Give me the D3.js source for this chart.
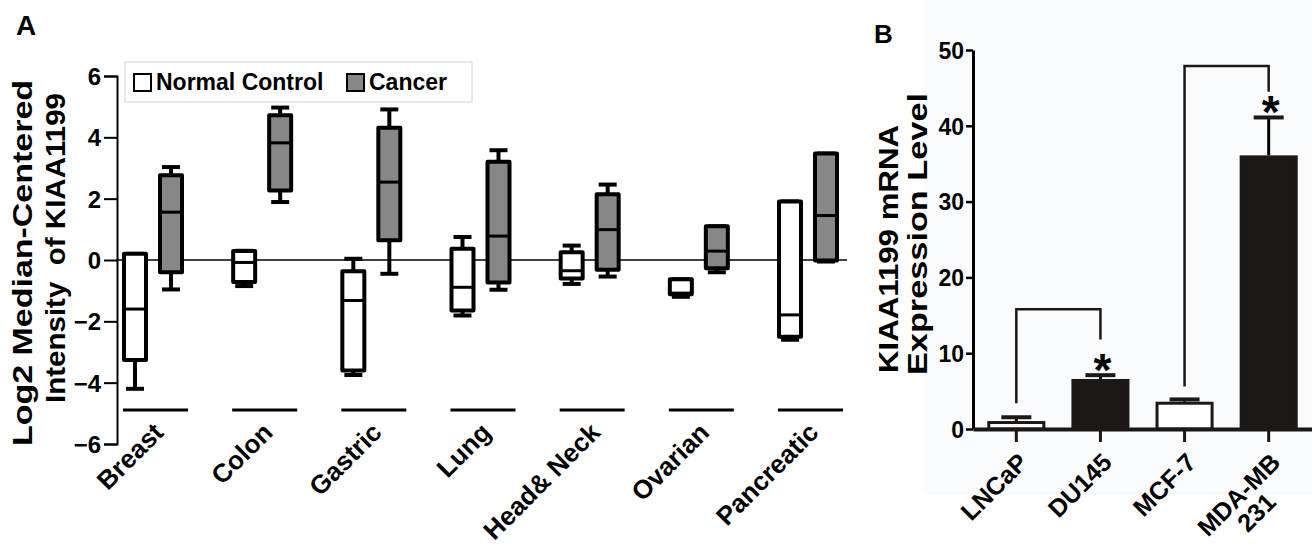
<!DOCTYPE html>
<html>
<head>
<meta charset="utf-8">
<script src="https://cdn.jsdelivr.net/npm/d3@7"></script>
<style>
  body { margin: 0; background: #fff; }
  svg text { font-family: "Liberation Sans", Arial, sans-serif; font-weight: bold; fill: #000; }
</style>
</head>
<body>
<script>
// ---- panel A data (box plots, log2 median-centered intensity) ----
const tumorTypes = ["Breast", "Colon", "Gastric", "Lung", "Head& Neck", "Ovarian", "Pancreatic"];
const groups = ["Normal Control", "Cancer"];

const normalMin = [-4.2, -0.85, -3.75, -1.81, -0.78, -1.2, -2.6];
const normalQ1  = [-3.26, -0.72, -3.6, -1.65, -0.6, -1.12, -2.5];
const normalMed = [-1.6, -0.08, -1.32, -0.89, -0.35, -1.08, -1.79];
const normalQ3  = [0.2, 0.29, -0.37, 0.37, 0.25, -0.63, 1.91];
const normalMax = [0.2, 0.3, 0.04, 0.75, 0.47, -0.63, 1.91];

const cancerMin = [-0.96, 1.89, -0.45, -0.97, -0.54, -0.4, -0.05];
const cancerQ1  = [-0.4, 2.27, 0.64, -0.73, -0.32, -0.27, -0.02];
const cancerMed = [1.56, 3.82, 2.54, 0.78, 0.99, 0.29, 1.45];
const cancerQ3  = [2.76, 4.72, 4.31, 3.2, 2.14, 1.1, 3.47];
const cancerMax = [3.03, 4.97, 4.91, 3.58, 2.46, 1.1, 3.47];

const yTicksA = [-6, -4, -2, 0, 2, 4, 6];

// ---- panel B data (qPCR bars) ----
const cellLines = ["LNCaP", "DU145", "MCF-7", "MDA-MB 231"];
const cellLabels = [["LNCaP"], ["DU145"], ["MCF-7"], ["MDA-MB", "231"]];
const expression = [1.05, 6.6, 3.6, 36.1];
const expressionErr = [0.5, 0.5, 0.3, 5.0];
const barIsDark = [false, true, false, true];
const yTicksB = [0, 10, 20, 30, 40, 50];
// significance brackets: from bar, to bar, top value, leg ends
const sigFrom = [0, 2];
const sigTo = [1, 3];
const sigTop = [15.8, 47.9];
const sigLeftEnd = [3.4, 5.6];
const sigRightEnd = [11.8, 44.5];

const W = 1312, H = 552;
const GRAY = "#878787";
const DARK = "#1c1816";

const svg = d3.select("body").append("svg")
  .attr("width", W)
  .attr("height", H);

// faint tint behind panel B
svg.append("rect")
  .attr("x", 923).attr("y", 0)
  .attr("width", W - 923).attr("height", 495)
  .attr("fill", "#f9fbfc");

// ================= PANEL A =================
const yA = d3.scaleLinear().domain([-6, 6]).range([444, 76]);
const xA = d3.scalePoint().domain(tumorTypes).range([153, 808]);
const gx = d3.scalePoint().domain(groups).range([-18, 18]);

svg.append("text")
  .attr("x", 16).attr("y", 35)
  .style("font-size", "28px")
  .text("A");

// y axis
const axisA = svg.append("g")
  .attr("transform", "translate(117,0)")
  .call(d3.axisLeft(yA).tickValues(yTicksA).tickSize(13).tickPadding(3).tickFormat(d3.format("d")));
axisA.select(".domain").attr("stroke-width", 2);
axisA.selectAll(".tick line").attr("stroke-width", 2);
axisA.selectAll(".tick text")
  .style("font-size", "24px")
  .style("font-family", "'Liberation Sans', Arial, sans-serif")
  .style("font-weight", "bold")
  .attr("dy", "0.36em");

// y title (two lines)
svg.append("text")
  .attr("transform", "translate(32,263) rotate(-90)")
  .attr("text-anchor", "middle")
  .attr("textLength", 366)
  .attr("lengthAdjust", "spacingAndGlyphs")
  .style("font-size", "27px")
  .text("Log2 Median-Centered");
svg.append("text")
  .attr("transform", "translate(65,248) rotate(-90)")
  .attr("text-anchor", "middle")
  .attr("textLength", 310)
  .attr("lengthAdjust", "spacingAndGlyphs")
  .style("font-size", "27px")
  .style("white-space", "pre")
  .text("Intensity  of KIAA1199");

// zero line
svg.append("line")
  .attr("x1", 117).attr("x2", 847)
  .attr("y1", yA(0)).attr("y2", yA(0))
  .attr("stroke", "#000").attr("stroke-width", 1.5);

// box plots
const boxW = 22, capW = 18;
const boxData = [];
tumorTypes.forEach((t, i) => {
  boxData.push({ t, g: "Normal Control", min: normalMin[i], q1: normalQ1[i], med: normalMed[i], q3: normalQ3[i], max: normalMax[i], fill: "#fff" });
  boxData.push({ t, g: "Cancer", min: cancerMin[i], q1: cancerQ1[i], med: cancerMed[i], q3: cancerQ3[i], max: cancerMax[i], fill: GRAY });
});

const boxes = svg.append("g").selectAll("g")
  .data(boxData)
  .enter()
  .append("g")
  .attr("transform", d => "translate(" + (xA(d.t) + gx(d.g)) + ",0)");

// whiskers
boxes.append("line")
  .attr("x1", 0).attr("x2", 0)
  .attr("y1", d => yA(d.max)).attr("y2", d => yA(d.min))
  .attr("stroke", "#000").attr("stroke-width", 4);
boxes.append("line")
  .attr("x1", -capW / 2).attr("x2", capW / 2)
  .attr("y1", d => yA(d.max)).attr("y2", d => yA(d.max))
  .attr("stroke", "#000").attr("stroke-width", 4);
boxes.append("line")
  .attr("x1", -capW / 2).attr("x2", capW / 2)
  .attr("y1", d => yA(d.min)).attr("y2", d => yA(d.min))
  .attr("stroke", "#000").attr("stroke-width", 4);

boxes.append("rect")
  .attr("x", -boxW / 2)
  .attr("width", boxW)
  .attr("y", d => yA(d.q3))
  .attr("height", d => yA(d.q1) - yA(d.q3))
  .attr("fill", d => d.fill)
  .attr("stroke", "#000")
  .attr("stroke-width", 4)
  .attr("stroke-linejoin", "round");

boxes.append("line")
  .attr("x1", -boxW / 2).attr("x2", boxW / 2)
  .attr("y1", d => yA(d.med)).attr("y2", d => yA(d.med))
  .attr("stroke", "#000").attr("stroke-width", 3);

// category underlines + labels
const cats = svg.append("g").selectAll("g")
  .data(tumorTypes)
  .enter()
  .append("g")
  .attr("transform", d => "translate(" + xA(d) + ",0)");

cats.append("line")
  .attr("x1", -30).attr("x2", 35)
  .attr("y1", 410).attr("y2", 410)
  .attr("stroke", "#000").attr("stroke-width", 3);

cats.append("text")
  .attr("text-anchor", "end")
  .attr("transform", "translate(12,434) rotate(-45)")
  .style("font-size", "26px")
  .text(d => d);

// legend
const leg = svg.append("g");
leg.append("rect")
  .attr("x", 125).attr("y", 62)
  .attr("width", 347).attr("height", 40)
  .attr("fill", "#fff")
  .attr("stroke", "#d4d4d4").attr("stroke-width", 1);
const legX = [134, 347];
groups.forEach((g, i) => {
  leg.append("rect")
    .attr("x", legX[i]).attr("y", 74)
    .attr("width", 17).attr("height", 17)
    .attr("fill", i === 0 ? "#fff" : GRAY)
    .attr("stroke", "#000").attr("stroke-width", 2);
  leg.append("text")
    .attr("x", legX[i] + 22).attr("y", 90)
    .style("font-size", "23px")
    .text(g);
});

// ================= PANEL B =================
const yB = d3.scaleLinear().domain([0, 50]).range([429, 50]);
const xB = d3.scaleBand().domain(cellLines).range([973, 1312]).paddingInner(0.31).paddingOuter(0.17);
const cB = d => xB(d) + xB.bandwidth() / 2;

svg.append("text")
  .attr("x", 874).attr("y", 43)
  .style("font-size", "26px")
  .text("B");

const axisBy = svg.append("g")
  .attr("transform", "translate(973,0)")
  .call(d3.axisLeft(yB).tickValues(yTicksB).tickSize(7).tickPadding(2).tickSizeOuter(0));
axisBy.select(".domain").attr("stroke-width", 3);
axisBy.selectAll(".tick line").attr("stroke-width", 2.5);
axisBy.selectAll(".tick text")
  .style("font-size", "23px")
  .style("font-family", "'Liberation Sans', Arial, sans-serif")
  .style("font-weight", "bold")
  .attr("dy", "0.36em");

svg.append("text")
  .attr("transform", "translate(898,249) rotate(-90)")
  .attr("text-anchor", "middle")
  .attr("textLength", 248)
  .attr("lengthAdjust", "spacingAndGlyphs")
  .style("font-size", "27px")
  .text("KIAA1199 mRNA");
svg.append("text")
  .attr("transform", "translate(927,234) rotate(-90)")
  .attr("text-anchor", "middle")
  .attr("textLength", 282)
  .attr("lengthAdjust", "spacingAndGlyphs")
  .style("font-size", "27px")
  .text("Expression Level");

// bars
const barData = cellLines.map((c, i) => ({ c, v: expression[i], e: expressionErr[i], dark: barIsDark[i] }));
const bars = svg.append("g").selectAll("g")
  .data(barData)
  .enter()
  .append("g");

bars.append("line")
  .attr("x1", d => cB(d.c)).attr("x2", d => cB(d.c))
  .attr("y1", d => yB(d.v)).attr("y2", d => yB(d.v + d.e))
  .attr("stroke", "#000").attr("stroke-width", 3);
bars.append("line")
  .attr("x1", d => cB(d.c) - 15).attr("x2", d => cB(d.c) + 15)
  .attr("y1", d => yB(d.v + d.e)).attr("y2", d => yB(d.v + d.e))
  .attr("stroke", DARK).attr("stroke-width", 4);
bars.append("rect")
  .attr("x", d => xB(d.c) + 1.5)
  .attr("width", xB.bandwidth() - 3)
  .attr("y", d => yB(d.v) + 1.5)
  .attr("height", d => yB(0) - yB(d.v) - 1.5)
  .attr("fill", d => d.dark ? DARK : "#fff")
  .attr("stroke", DARK)
  .attr("stroke-width", 3);

// x axis B
const axisBx = svg.append("g")
  .attr("transform", "translate(0," + yB(0) + ")")
  .call(d3.axisBottom(xB).tickSize(13).tickSizeOuter(0).tickFormat(""));
axisBx.select(".domain").attr("stroke-width", 4).attr("stroke", DARK);
axisBx.selectAll(".tick line").attr("stroke-width", 3).attr("stroke", DARK);

// rotated labels
const labB = svg.append("g").selectAll("text")
  .data(cellLabels)
  .enter()
  .append("text")
  .attr("transform", (d, i) => "translate(" + (cB(cellLines[i]) + 13) + ",464) rotate(-45)")
  .attr("text-anchor", "end")
  .style("font-size", "25px");
labB.each(function (d) {
  const t = d3.select(this);
  const first = t.append("tspan").attr("x", 0).text(d[0]);
  if (d.length > 1) {
    const w = first.node().getComputedTextLength();
    t.append("tspan")
      .attr("x", -w / 2)
      .attr("dy", "1.0em")
      .attr("text-anchor", "middle")
      .text(d[1]);
  }
});

// significance brackets
sigFrom.forEach((f, i) => {
  const x1 = cB(cellLines[f]);
  const x2 = cB(cellLines[sigTo[i]]);
  svg.append("path")
    .attr("d", "M" + x1 + "," + yB(sigLeftEnd[i]) + "V" + yB(sigTop[i]) + "H" + x2 + "V" + yB(sigRightEnd[i]))
    .attr("fill", "none")
    .attr("stroke", DARK)
    .attr("stroke-width", 2.5);
  const to = sigTo[i];
  svg.append("text")
    .attr("x", x2 + 2)
    .attr("y", yB(expression[to] + expressionErr[to]) - 15 + 26)
    .attr("text-anchor", "middle")
    .style("font-size", "46px")
    .text("*");
});
</script>
</body>
</html>
